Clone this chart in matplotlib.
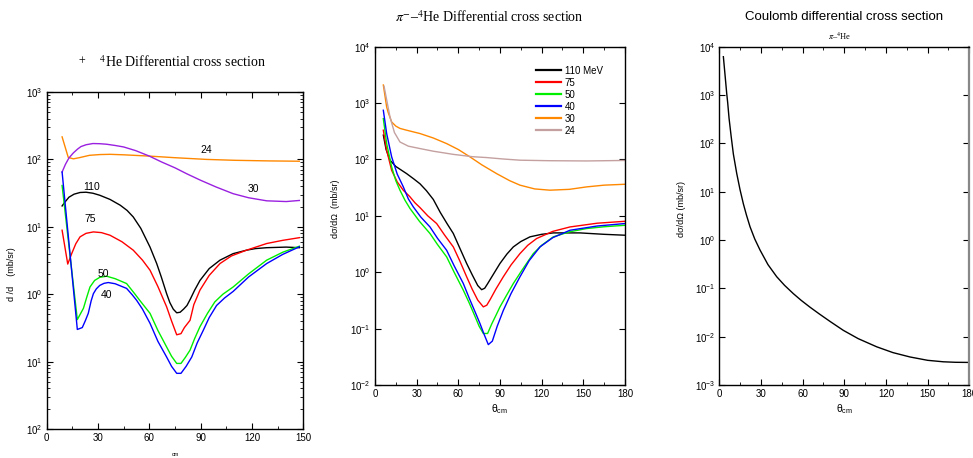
import numpy as np
import matplotlib
matplotlib.use("Agg")
import matplotlib.pyplot as plt
from matplotlib.ticker import FixedLocator, FixedFormatter, MultipleLocator, LogLocator, NullFormatter

plt.rcParams['font.family'] = ['Liberation Sans', 'DejaVu Sans']
plt.rcParams['mathtext.fontset'] = 'custom'
plt.rcParams['mathtext.rm'] = 'Liberation Sans'
plt.rcParams['mathtext.it'] = 'Liberation Sans:italic'

# --- left panel: pi+ 4He ---
l24_x = [9, 12.6, 15.6, 19, 25, 31, 37, 45, 60, 75, 93.5, 110, 130, 147.7]
l24_y = [216, 107, 102, 106, 115, 118, 119, 117, 112, 106, 100, 97, 95, 94]
l30_x = [9, 11, 13, 15.6, 18, 20, 23, 27, 31, 35, 40, 45, 52, 60, 67, 75, 82, 90, 99, 109, 118, 128.6, 140, 147.7]
l30_y = [65, 85, 105, 125, 142, 155, 165, 172, 171, 168, 161, 153, 135, 112, 92, 75, 61, 49, 39, 31, 27, 24.3, 23.7, 24.6]
l110_x = [9, 10.5, 13, 16, 19.5, 23, 27, 31, 37, 43, 47, 50.6, 55, 60.4, 64.3, 67, 70.1, 72, 74, 76, 78, 80, 82, 84,
          86.5, 89.6, 95, 101.3, 109, 116.8, 122, 128.6, 140, 147.7]
l110_y = [20.4, 23, 27.5, 30.5, 32.3, 32.6, 31.5, 29.4, 25.5, 20.9, 17.5, 14, 9.5, 5.0, 2.85, 1.8, 1.02, 0.75, 0.6,
          0.53, 0.54, 0.6, 0.68, 0.85, 1.15, 1.6, 2.4, 3.2, 4.0, 4.5, 4.75, 4.9, 5.0, 4.9]
l75_x = [9, 12.3, 14.6, 17, 19.5, 23, 27.3, 32, 37, 44, 50.6, 56, 60.4, 65, 70.1, 73, 76, 78.5, 80.5, 83.8, 86,
         89.6, 95, 101.3, 108, 116.8, 128.6, 138, 147.7]
l75_y = [8.9, 2.8, 4.0, 5.6, 7.1, 8.0, 8.4, 8.2, 7.5, 6.0, 4.5, 3.2, 2.27, 1.3, 0.65, 0.4, 0.25, 0.26, 0.32, 0.41,
         0.7, 1.15, 1.9, 2.85, 3.7, 4.5, 5.65, 6.3, 6.9]
l50_x = [9, 17.9, 19.5, 21.5, 23.4, 25.3, 28, 31, 35, 40, 46.7, 51, 54.4, 60.4, 65, 70.1, 73, 76, 78.5, 81, 83.8,
         86.5, 89.6, 94, 98.3, 103, 109, 118, 128.6, 138, 147.7]
l50_y = [41, 0.42, 0.5, 0.62, 0.9, 1.28, 1.6, 1.78, 1.85, 1.7, 1.44, 1.05, 0.81, 0.52, 0.29, 0.165, 0.12, 0.094,
         0.094, 0.115, 0.148, 0.22, 0.33, 0.52, 0.77, 1.0, 1.28, 2.0, 3.2, 4.2, 5.15]
l40_x = [9, 17.9, 20.8, 22.5, 24.3, 26, 27.3, 29, 31, 33.5, 36, 40, 46.7, 50, 52.6, 56, 60.4, 65, 70.1, 73, 76,
         78.5, 81.5, 84.8, 88, 91.5, 95, 99.3, 104, 109, 118, 128.6, 138, 147.7]
l40_y = [65, 0.30, 0.32, 0.4, 0.52, 0.8, 1.02, 1.2, 1.35, 1.45, 1.49, 1.43, 1.22, 0.98, 0.81, 0.6, 0.37, 0.2,
         0.117, 0.085, 0.067, 0.067, 0.085, 0.117, 0.19, 0.29, 0.45, 0.68, 0.88, 1.1, 1.8, 2.85, 3.9, 5.05]
left_labels = ["24", "30", "110", "75", "50", "40"]
left_label_x = [93.5, 120.8, 26.3, 25.7, 33.1, 34.7]
left_label_y = [137, 37, 39, 12.9, 2.0, 0.97]
left_ytick_vals = [1e-2, 1e-1, 1e0, 1e1, 1e2, 1e3]
left_ytick_text = ['$10^{2}$', '$10^{1}$', '$10^{0}$', '$10^{1}$', '$10^{2}$', '$10^{3}$']

# --- middle panel: pi- 4He ---
m110_x = [6, 8, 10.8, 15, 22.8, 28, 32.4, 37, 42, 47, 52, 56.4, 61, 66, 70, 74, 76.8, 79, 81, 84, 90, 95, 99.6,
          105, 111.6, 120, 128.4, 147.6, 165, 180]
m110_y = [270, 150, 97, 75, 56, 45, 37, 28, 19.5, 11.5, 7.2, 4.86, 2.7, 1.43, 0.9, 0.58, 0.49, 0.52, 0.62, 0.82,
          1.43, 2.1, 2.81, 3.5, 4.24, 4.7, 4.98, 4.98, 4.7, 4.53]
m75_x = [6, 8.4, 12, 16, 20.4, 25, 28.8, 32.4, 38, 44.4, 50, 56.4, 61, 66, 70, 74, 78, 80.5, 83, 87, 92.4, 98,
         104.4, 110, 116.4, 128, 140.4, 160, 180]
m75_y = [330, 146, 64, 40, 28.4, 22, 17, 14, 10, 7.3, 4.6, 2.81, 1.6, 0.83, 0.5, 0.32, 0.243, 0.26, 0.33, 0.5,
         0.83, 1.35, 2.14, 3.0, 3.96, 5.3, 6.35, 7.4, 8.0]
m50_x = [6, 8.4, 12, 15, 18, 21.6, 25.2, 32, 39.6, 45, 51.6, 57, 63.6, 68, 72, 75, 78, 81.1, 84, 87, 90, 95, 99.6,
         106, 114, 120, 128.4, 140, 152.4, 165, 180]
m50_y = [530, 191, 73.6, 42, 28.4, 18.9, 13.5, 8, 4.86, 3.1, 1.87, 1.0, 0.48, 0.28, 0.165, 0.11, 0.082, 0.082,
         0.12, 0.17, 0.243, 0.4, 0.63, 1.1, 2.14, 3.0, 4.24, 5.2, 5.95, 6.4, 6.8]
m40_x = [6, 8.4, 12, 16, 20.4, 24, 27.6, 33, 39.6, 45, 51.6, 57, 63.6, 68, 72, 75.6, 78.5, 81.6, 84.5, 88, 92.4,
         98, 104.4, 111, 118.8, 128, 140.4, 160, 180]
m40_y = [745, 288, 111, 55, 32.6, 20, 14.4, 9.5, 6.35, 4.0, 2.45, 1.3, 0.63, 0.34, 0.2, 0.123, 0.08, 0.052, 0.06,
         0.11, 0.21, 0.42, 0.83, 1.6, 2.81, 4.1, 5.55, 6.6, 7.3]
m30_x = [6, 8.4, 9.5, 12, 15, 18, 22.8, 32.4, 42, 51.6, 60, 68.4, 77, 87.6, 97, 104.4, 115, 126, 140, 152.4, 165, 180]
m30_y = [2090, 850, 680, 462, 390, 355, 330, 288, 240, 191, 150, 111, 80, 56, 42, 35, 30, 28.5, 29.5, 32.6, 35, 36.3]
m24_x = [6.5, 10.8, 14, 18, 24, 32.4, 42, 56.4, 70, 80.4, 92, 104.4, 125, 152.4, 180]
m24_y = [1990, 567, 300, 204, 172, 156, 140, 123, 112, 108, 102, 97, 95, 94, 96]
mid_labels = ["110 MeV", "75", "50", "40", "30", "24"]

# --- right panel: Coulomb ---
c_x = [2.9, 4, 5.3, 6, 7, 8.5, 10.1, 12.5, 14.9, 17.3, 19.5, 22.1, 25.5, 29.3, 35, 41.3, 47, 53.3, 59, 65.3, 72,
       80, 89.3, 100, 113.3, 125, 137.3, 150, 161.3, 170, 180]
c_y = [6200, 2800, 1085, 700, 330, 140, 60, 24, 11, 5.6, 3.3, 1.88, 1.05, 0.62, 0.31, 0.174, 0.115, 0.0776,
       0.0562, 0.0407, 0.0295, 0.0204, 0.0135, 0.0091, 0.00617, 0.00468, 0.0038, 0.00324, 0.00302, 0.00295, 0.00293]

col = {'110': 'black', '75': '#ff0000', '50': '#00ee00', '40': '#0000ff',
       '30': '#ff8800', '24': '#c4a0a0', 'p30': '#9a20e0'}

fig = plt.figure(figsize=(9.73, 4.58), dpi=100)
ax1 = fig.add_axes([0.048, 0.0633, 0.2637, 0.7358])
ax2 = fig.add_axes([0.3854, 0.1594, 0.2569, 0.7387])
ax3 = fig.add_axes([0.7393, 0.1594, 0.2569, 0.7387])


def style(ax, xmax, ylo, yhi, minor_y):
    ax.set_yscale('log')
    ax.set_xlim(0, xmax)
    ax.set_ylim(ylo, yhi)
    ax.xaxis.set_major_locator(MultipleLocator(30))
    ax.xaxis.set_minor_locator(MultipleLocator(15))
    if minor_y:
        ax.yaxis.set_minor_locator(LogLocator(base=10, subs=np.arange(2, 10), numticks=20))
    else:
        ax.yaxis.set_minor_locator(FixedLocator([]))
    ax.yaxis.set_minor_formatter(NullFormatter())
    ax.tick_params(which='both', direction='in', top=True, right=True, labelsize=7, pad=3)
    ax.tick_params(which='major', length=4, width=0.8)
    ax.tick_params(which='minor', length=2, width=0.6)
    for s in ax.spines.values():
        s.set_linewidth(1.0)


# left
style(ax1, 150, 1e-2, 1e3, True)
ax1.plot(l24_x, l24_y, color=col['30'], lw=1)
ax1.plot(l30_x, l30_y, color=col['p30'], lw=1)
ax1.plot(l110_x, l110_y, color=col['110'], lw=1)
ax1.plot(l75_x, l75_y, color=col['75'], lw=1)
ax1.plot(l50_x, l50_y, color=col['50'], lw=1)
ax1.plot(l40_x, l40_y, color=col['40'], lw=1)
ax1.yaxis.set_major_locator(FixedLocator(left_ytick_vals))
ax1.yaxis.set_major_formatter(FixedFormatter(left_ytick_text))
for t, x, y in zip(left_labels, left_label_x, left_label_y):
    ax1.text(x, y, t, fontsize=7.5, ha='center', va='center')
ax1.set_ylabel('d /d    (mb/sr)', fontsize=6.5)
ax1.yaxis.set_label_coords(-0.12, 0.46)
ax1.text(0.5, -0.075, 'cm', fontsize=4, ha='center', va='center', transform=ax1.transAxes)
fig.text(0.177, 0.865, r'$^{+}$    $^{4}$He Differential cross section',
         family='Liberation Serif', math_fontfamily='stix', fontsize=10, ha='center', va='center')

# middle
style(ax2, 180, 1e-2, 1e4, False)
ax2.plot(m110_x, m110_y, color=col['110'], lw=1, label=mid_labels[0])
ax2.plot(m75_x, m75_y, color=col['75'], lw=1, label=mid_labels[1])
ax2.plot(m50_x, m50_y, color=col['50'], lw=1, label=mid_labels[2])
ax2.plot(m40_x, m40_y, color=col['40'], lw=1, label=mid_labels[3])
ax2.plot(m30_x, m30_y, color=col['30'], lw=1, label=mid_labels[4])
ax2.plot(m24_x, m24_y, color=col['24'], lw=1, label=mid_labels[5])
leg = ax2.legend(loc='upper left', bbox_to_anchor=(0.63, 0.955), frameon=False, fontsize=7,
                 handlelength=2.5, handletextpad=0.4, labelspacing=0.2, borderaxespad=0)
for h in leg.get_lines():
    h.set_linewidth(1.6)
ax2.set_ylabel('dσ/dΩ  (mb/sr)', fontsize=6.5)
ax2.yaxis.set_label_coords(-0.14, 0.52)
ax2.set_xlabel(r'θ$_{\rm cm}$', fontsize=7.5, labelpad=2)
fig.text(0.5026, 0.963, r'$\pi^{-}$–$^{4}$He Differential cross section',
         family='Liberation Serif', math_fontfamily='stix', fontsize=10, ha='center', va='center')

# right
style(ax3, 180, 1e-3, 1e4, False)
ax3.plot(c_x, c_y, color='black', lw=1)
ax3.spines['right'].set_color('#888888')
ax3.spines['right'].set_linewidth(1.6)
ax3.set_ylabel('dσ/dΩ (mb/sr)', fontsize=6.5)
ax3.yaxis.set_label_coords(-0.133, 0.52)
ax3.set_xlabel(r'θ$_{\rm cm}$', fontsize=7.5, labelpad=2)
fig.text(0.867, 0.963, 'Coulomb differential cross section', fontsize=9.5, ha='center', va='center')
fig.text(0.863, 0.92, r'$\pi$–$^{4}$He', family='Liberation Serif', math_fontfamily='stix',
         fontsize=6, ha='center', va='center')

fig.savefig('out.png', dpi=100)
